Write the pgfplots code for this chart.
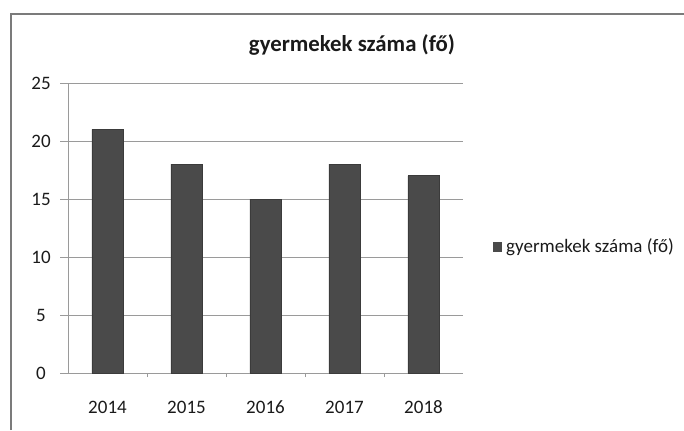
\documentclass[border=0pt]{standalone}
\usepackage{pgfplots}
\pgfplotsset{compat=1.18}
\usepackage{fontspec}
\setmainfont{Carlito}

\definecolor{barfill}{HTML}{4A4A4A}
\definecolor{gridc}{HTML}{9A9A9A}
\definecolor{txt}{HTML}{1A1A1A}

\begin{document}
\begin{tikzpicture}
  \useasboundingbox (0pt,0pt) rectangle (342pt,215pt);
  \draw[gridc!80!black, line width=0.9pt] (5.5pt,0pt) -- (5.5pt,208pt) -- (342pt,208pt);
  \node[font=\bfseries\fontsize{11.4}{13}\selectfont, text=txt] at (176pt,192.5pt) {gyermekek száma (fő)};
  % origin = centre of the first bar on the zero line
  \begin{axis}[
      at={(53.75pt,28.5pt)}, anchor=origin,
      scale only axis,
      width=197.5pt, height=145pt,
      xmin=-0.5, xmax=4.5,
      ymin=0, ymax=25,
      ytick={0,5,...,25},
      xtick={0,1,2,3,4},
      xticklabels={2014,2015,2016,2017,2018},
      minor xtick={0.5,1.5,2.5,3.5},
      axis x line=bottom, axis y line=left,
      axis line style={gridc, -},
      ymajorgrids, grid style={gridc, line width=0.5pt},
      major x tick style={draw=none},
      minor tick length=2pt,
      minor x tick style={gridc},
      major y tick style={gridc},
      tick align=outside, major tick length=4pt,
      xticklabel style={anchor=center, yshift=-13pt},
      yticklabel style={anchor=center, xshift=-9.5pt},
      tick label style={font=\fontsize{9.5}{11}\selectfont, text=txt},
      /pgf/number format/assume math mode=true,
      ybar, bar width=15.5pt,
      legend style={at={(1.076,0.434)}, anchor=west, draw=none, fill=none,
        font=\fontsize{9.5}{11}\selectfont, text=txt,
        inner sep=0pt, outer sep=0pt},
      legend cell align=left,
    ]
    \addplot[fill=barfill, draw=barfill!80!black,
      legend image code/.code={\fill[barfill] (0pt,-2.2pt) rectangle (4.2pt,2.2pt);}]
      coordinates {
      (0,21) (1,18) (2,15) (3,18) (4,17)
    };
    \addlegendentry{gyermekek száma (fő)}
  \end{axis}
\end{tikzpicture}
\end{document}
